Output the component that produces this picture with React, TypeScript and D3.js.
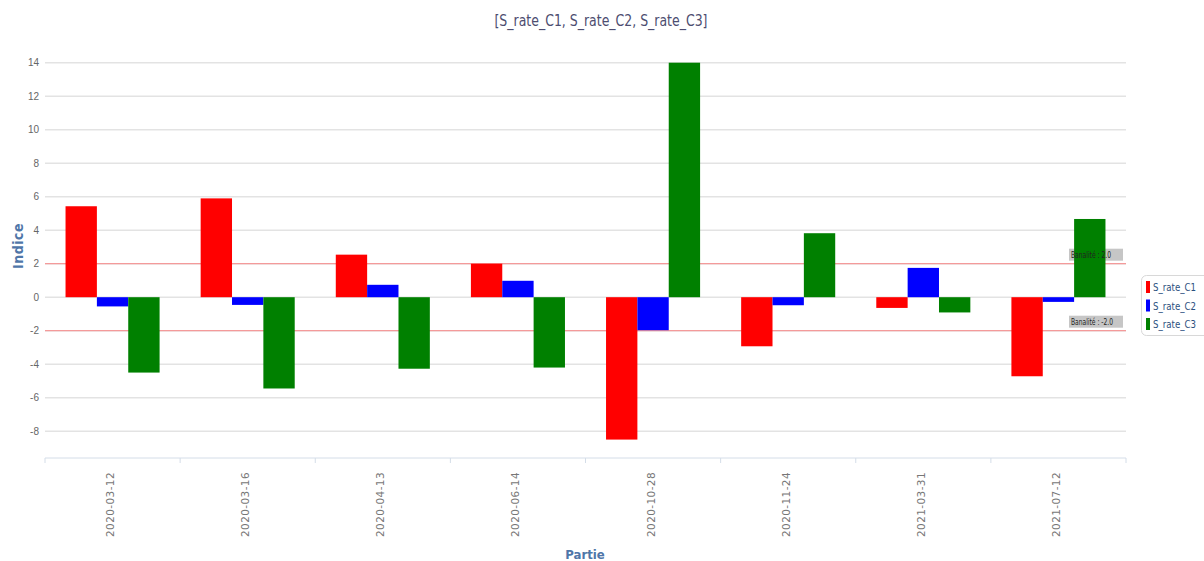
import * as d3 from 'd3';

const categories = [
  '2020-03-12',
  '2020-03-16',
  '2020-04-13',
  '2020-06-14',
  '2020-10-28',
  '2020-11-24',
  '2021-03-31',
  '2021-07-12',
];
const seriesNames = ['S_rate_C1', 'S_rate_C2', 'S_rate_C3'];
const seriesColors = ['#ff0000', '#0000ff', '#008000'];
const rateC1 = [5.43, 5.9, 2.54, 2.0, -8.5, -2.93, -0.64, -4.72];
const rateC2 = [-0.55, -0.46, 0.74, 0.98, -1.97, -0.48, 1.75, -0.28];
const rateC3 = [-4.5, -5.45, -4.27, -4.2, 14.0, 3.82, -0.91, 4.67];
const yTicks = [-8, -6, -4, -2, 0, 2, 4, 6, 8, 10, 12, 14];
const plotLines = [
  { value: 2, label: 'Banalité : 2.0' },
  { value: -2, label: 'Banalité : -2.0' },
];

const W = 1204;
const H = 561;
const cond = '"DejaVu Sans Condensed", "Liberation Sans Narrow", "DejaVu Sans", sans-serif';

export default function App() {
  const left = 45;
  const right = 1126;
  const x = d3.scaleBand<string>().domain(categories).range([left, right]).padding(0);
  const inner = d3
    .scaleBand<string>()
    .domain(seriesNames)
    .range([0, x.bandwidth()])
    .paddingInner(0)
    .paddingOuter(0.655);
  const y = d3.scaleLinear().domain([-9.6, 14]).range([458, 62.7]);
  const series = [rateC1, rateC2, rateC3];

  return (
    <svg width={W} height={H} style={{ position: 'absolute', left: 0, top: 0, background: '#fff' }}>
      <text
        x={601}
        y={26}
        textAnchor="middle"
        fontFamily={cond}
        fontSize={15}
        fill="#4d4d70"
        textLength={213}
        lengthAdjust="spacingAndGlyphs"
      >
        [S_rate_C1, S_rate_C2, S_rate_C3]
      </text>

      {/* grid */}
      {yTicks.map((t) => (
        <g key={t}>
          <line x1={left} x2={right} y1={y(t)} y2={y(t)} stroke="#e3e3e3" strokeWidth={1.5} />
          <text
            x={39}
            y={y(t) + 3.5}
            textAnchor="end"
            fontFamily='"Liberation Sans", Arial, sans-serif'
            fontSize={10}
            fill="#666"
          >
            {t}
          </text>
        </g>
      ))}

      {/* plot lines */}
      {plotLines.map((p) => (
        <g key={p.value}>
          <line x1={left} x2={right} y1={y(p.value)} y2={y(p.value)} stroke="#f49a9a" strokeWidth={1.3} />
          <rect x={1069} y={y(p.value) - 15} width={54} height={12} fill="#c6c6c6" />
        </g>
      ))}

      {/* bars */}
      {categories.map((c, i) => (
        <g key={c} transform={`translate(${x(c)},0)`}>
          {series.map((s, k) => {
            const v = s[i];
            return (
              <rect
                key={k}
                x={inner(seriesNames[k])}
                width={inner.bandwidth()}
                y={Math.min(y(v), y(0))}
                height={Math.abs(y(v) - y(0))}
                fill={seriesColors[k]}
              />
            );
          })}
        </g>
      ))}

      {plotLines.map((p) => (
        <text
          key={p.value}
          x={1071}
          y={y(p.value) - 6}
          fontFamily={cond}
          fontSize={8}
          fill="#222"
          textLength={p.value > 0 ? 40 : 42}
          lengthAdjust="spacingAndGlyphs"
        >
          {p.label}
        </text>
      ))}

      {/* x axis */}
      <line x1={left} x2={right} y1={458} y2={458} stroke="#d4dde8" strokeWidth={1} />
      {[...categories.map((c) => x(c) as number), right].map((tx, i) => (
        <line key={i} x1={tx} x2={tx} y1={458} y2={463} stroke="#d4dde8" strokeWidth={1} />
      ))}
      {categories.map((c) => {
        const cx = (x(c) as number) + x.bandwidth() / 2 + 1.5;
        return (
          <text
            key={c}
            transform={`translate(${cx},472) rotate(-90)`}
            textAnchor="end"
            fontFamily='"DejaVu Sans", sans-serif'
            fontSize={10.5}
            fill="#777"
            letterSpacing={0.4}
          >
            {c}
          </text>
        );
      })}
      <text
        x={585}
        y={559}
        textAnchor="middle"
        fontFamily={cond}
        fontSize={13}
        fontWeight="bold"
        fill="#4f76a8"
      >
        Partie
      </text>
      <text
        transform="translate(23,246) rotate(-90)"
        textAnchor="middle"
        fontFamily={cond}
        fontSize={14}
        fontWeight="bold"
        fill="#4f76a8"
        letterSpacing={0.5}
      >
        Indice
      </text>

      {/* legend */}
      <rect x={1141.5} y={275.5} width={70} height={60} rx={5} fill="#fff" stroke="#d8d8d8" />
      {seriesNames.map((n, k) => {
        const cy = 287 + k * 18.5;
        return (
          <g key={n}>
            <rect x={1146} y={cy - 6} width={4} height={12} fill={seriesColors[k]} />
            <text
              x={1153}
              y={cy + 4}
              fontFamily={cond}
              fontSize={10}
              fill="#2b4f7e"
              textLength={43}
              lengthAdjust="spacingAndGlyphs"
            >
              {n}
            </text>
          </g>
        );
      })}
    </svg>
  );
}
